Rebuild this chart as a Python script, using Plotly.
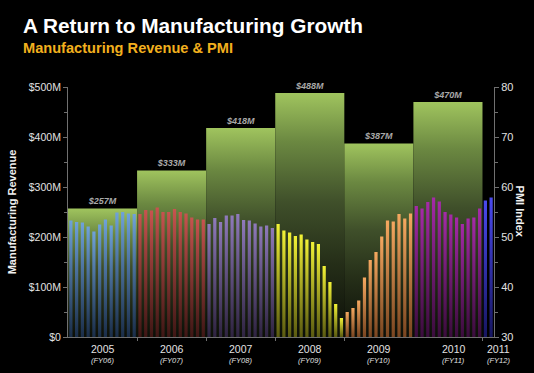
import plotly.graph_objects as go

# ---------------- data ----------------
years = ['2005', '2006', '2007', '2008', '2009', '2010', '2011']
fiscal = ['(FY06)', '(FY07)', '(FY08)', '(FY09)', '(FY10)', '(FY11)', '(FY12)']
year_label_pos = [6, 18, 30, 42, 54, 67, 74.7]     # month index of each year label
revenue = [257, 333, 418, 488, 387, 470]          # $M, annual
revenue_labels = ['$257M', '$333M', '$418M', '$488M', '$387M', '$470M']

pmi_2005 = [53.3, 53.0, 52.9, 52.1, 51.1, 52.5, 53.5, 52.3, 54.9, 55.0, 54.7, 54.6]
pmi_2006 = [54.6, 55.4, 55.3, 55.9, 55.0, 55.0, 55.6, 55.0, 54.7, 53.9, 53.5, 53.5]
pmi_2007 = [52.6, 53.8, 53.0, 54.3, 54.3, 54.6, 53.4, 53.3, 52.7, 52.1, 52.3, 51.8]
pmi_2008 = [52.6, 51.3, 50.9, 50.2, 50.5, 49.5, 49.0, 48.6, 44.2, 41.0, 36.6, 33.8]
pmi_2009 = [35.0, 35.8, 37.3, 41.9, 45.4, 47.0, 50.1, 53.3, 53.1, 54.6, 53.7, 54.7]
pmi_2010 = [56.2, 55.7, 57.0, 57.9, 57.1, 55.0, 54.5, 53.9, 52.6, 53.7, 53.9, 55.7]
pmi_2011 = [57.3, 57.9]

pmi_series = [pmi_2005, pmi_2006, pmi_2007, pmi_2008, pmi_2009, pmi_2010, pmi_2011]
# (top colour, bottom colour) per year
pmi_colors = [
    ('#6fa2da', '#1a2d48'),
    ('#c8534f', '#3e1614'),
    ('#8f7abb', '#2e2340'),
    ('#f2f236', '#5a5a10'),
    ('#f6a860', '#7a4520'),
    ('#a52aa8', '#3a0c3c'),
    ('#4a4aee', '#161660'),
]

REV_SCALE = [[0.0, '#0c0f08'], [0.3, '#252e18'], [0.55, '#3f4f2a'],
             [0.8, '#6b8841'], [1.0, '#a0c45e']]

FONT = 'Liberation Sans, Arial, sans-serif'
N_MONTHS = 74

fig = go.Figure()

# annual revenue blocks (gradient filled)
for k, v in enumerate(revenue):
    x0, x1 = 12 * k, 12 * k + 12
    fig.add_trace(go.Scatter(
        x=[x0, x1, x1, x0, x0], y=[0, 0, v, v, 0],
        fill='toself', mode='lines', line=dict(width=0),
        fillgradient=dict(type='vertical', colorscale=REV_SCALE, start=0, stop=v),
        hoverinfo='skip', yaxis='y'))

# revenue labels
fig.add_trace(go.Scatter(
    x=[12 * k + 6 for k in range(len(revenue))], y=[v + 4 for v in revenue],
    mode='text', text=revenue_labels, textposition='top center',
    textfont=dict(family=FONT, size=9, color='#a8a8a8', style='italic', weight='bold'),
    cliponaxis=False, hoverinfo='skip', yaxis='y'))

# monthly PMI bars (gradient filled)
HALF = 0.28
for yi, vals in enumerate(pmi_series):
    top_c, bot_c = pmi_colors[yi]
    for j, v in enumerate(vals):
        m = 12 * yi + j + 0.5
        fig.add_trace(go.Scatter(
            x=[m - HALF, m + HALF, m + HALF, m - HALF, m - HALF],
            y=[30, 30, v, v, 30],
            fill='toself', mode='lines', line=dict(width=0),
            fillgradient=dict(type='vertical',
                              colorscale=[[0, bot_c], [1, top_c]],
                              start=30, stop=v),
            hoverinfo='skip', yaxis='y2'))

tick_font = dict(family=FONT, size=10.5, color='#e2e2e2')

rev_ticks = [0, 100, 200, 300, 400, 500]
rev_ticktext = ['$0' if t == 0 else f'${t}M' for t in rev_ticks]

annotations = [
    dict(text='<b>A Return to Manufacturing Growth</b>', xref='paper', yref='paper',
         x=-0.11, y=1.245, xanchor='left', yanchor='middle', showarrow=False,
         font=dict(family=FONT, size=20.8, color='white')),
    dict(text='<b>Manufacturing Revenue & PMI</b>', xref='paper', yref='paper',
         x=-0.11, y=1.158, xanchor='left', yanchor='middle', showarrow=False,
         font=dict(family=FONT, size=14.6, color='#f2b01e')),
    dict(text='<b>PMI Index</b>', xref='paper', yref='paper',
         x=1.062, y=0.5, xanchor='center', yanchor='middle', showarrow=False,
         textangle=90, font=dict(family=FONT, size=11, color='#f0f0f0')),
]
for pos, yr, fy in zip(year_label_pos, years, fiscal):
    px = pos / N_MONTHS
    annotations.append(dict(text=yr, xref='paper', yref='paper', x=px, y=-0.046,
                            xanchor='center', yanchor='middle', showarrow=False,
                            font=tick_font))
    annotations.append(dict(text=f'<i>{fy}</i>', xref='paper', yref='paper', x=px, y=-0.094,
                            xanchor='center', yanchor='middle', showarrow=False,
                            font=dict(family=FONT, size=7.5, color='#e2e2e2')))

fig.update_layout(
    width=534, height=373,
    paper_bgcolor='black', plot_bgcolor='black',
    margin=dict(l=63, r=40, t=87, b=36),
    showlegend=False,
    xaxis=dict(range=[0, N_MONTHS], showgrid=False, zeroline=False,
               showline=True, linecolor='#707070', linewidth=1,
               showticklabels=False, ticks='',
               minor=dict(tick0=0, dtick=12, ticks='outside', ticklen=3,
                          tickcolor='#707070')),
    yaxis=dict(range=[0, 500], showgrid=False, zeroline=False,
               showline=True, linecolor='#707070', linewidth=1,
               tickvals=rev_ticks, ticktext=rev_ticktext,
               ticks='outside', ticklen=4, tickcolor='#707070',
               minor=dict(dtick=50, ticks='outside', ticklen=3, tickcolor='#707070'),
               tickfont=tick_font,
               title=dict(text='<b>Manufacturing Revenue</b>',
                          font=dict(family=FONT, size=11, color='#f0f0f0'),
                          standoff=9)),
    yaxis2=dict(range=[30, 80], overlaying='y', side='right',
                showgrid=False, zeroline=False,
                showline=True, linecolor='#707070', linewidth=1,
                tickvals=[30, 40, 50, 60, 70, 80],
                ticks='outside', ticklen=4, tickcolor='#707070',
                minor=dict(dtick=5, ticks='outside', ticklen=3, tickcolor='#707070'),
                tickfont=dict(family=FONT, size=11, color='#e2e2e2')),
    annotations=annotations,
)

fig.write_html('out.html',
               config={'displayModeBar': False},
               post_script="document.body.style.margin='0';"
                           "document.body.style.background='black';"
                           "document.body.style.overflow='hidden';")
